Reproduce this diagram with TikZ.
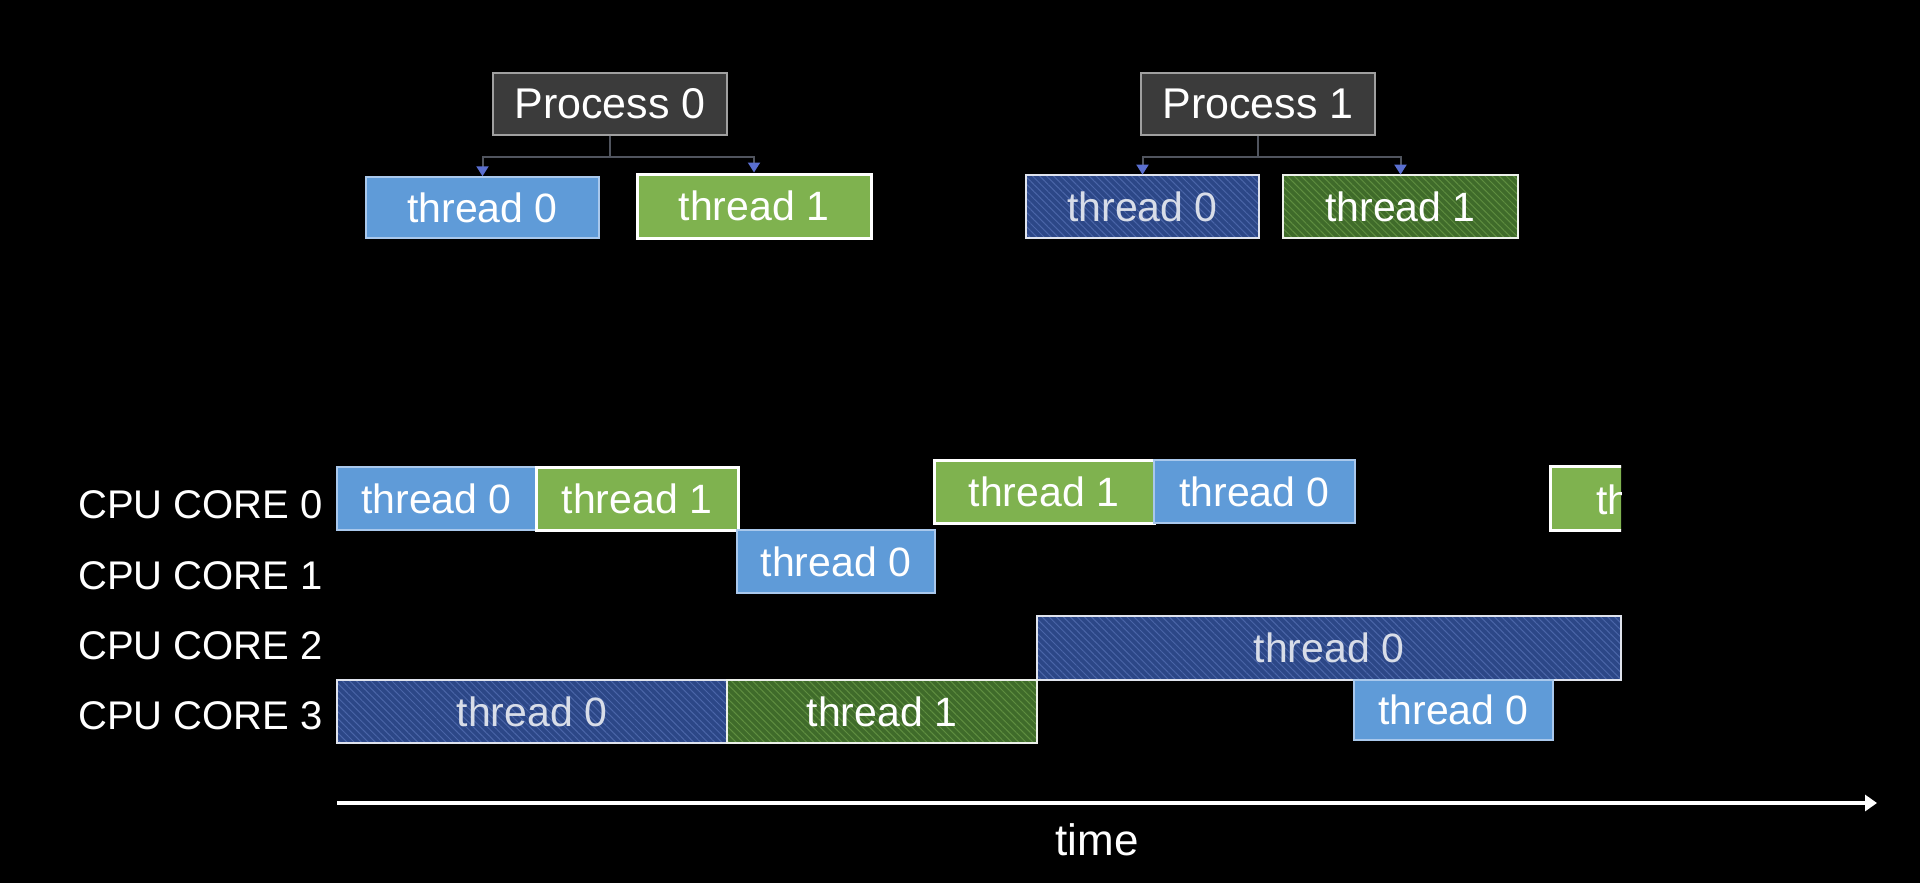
\documentclass[tikz,border=0pt]{standalone}
\usepackage{fontspec}
\setmainfont{Liberation Sans}
\usetikzlibrary{arrows.meta,fit,patterns.meta}
\definecolor{lbfill}{HTML}{5F9BD8}
\definecolor{lbline}{HTML}{A9C8EC}
\definecolor{lgfill}{HTML}{7FB24F}
\definecolor{dbfill}{HTML}{2C4787}
\definecolor{dbhatch}{HTML}{4A65A8}
\definecolor{dgfill}{HTML}{3F6B2A}
\definecolor{dghatch}{HTML}{5F8E40}
\definecolor{procfill}{HTML}{3B3B3B}
\definecolor{procline}{HTML}{A0A0A0}
\definecolor{connline}{HTML}{50545E}
\definecolor{arrowblue}{HTML}{5A6FD0}
\definecolor{dtext}{HTML}{D8DDE8}
\newcommand{\tbox}[7]{\node[#1, fit={(#3,#4)(#5,#6)}, inner sep=0pt, label={[#1text]center:#7}] (#2) {};}
\begin{document}
\begin{tikzpicture}[x=0.5pt,y=-0.5pt,
  txt/.style={font=\fontsize{20.5}{24}\selectfont, inner sep=0pt},
  lblue/.style={draw=lbline, line width=0.75pt, fill=lbfill},
  lbluetext/.style={txt, text=white},
  lgreen/.style={draw=white, line width=1.5pt, fill=lgfill},
  lgreentext/.style={txt, text=white},
  dblue/.style={fill=dbfill,
    postaction={pattern={Lines[angle=-45,distance=2.5pt,line width=0.5pt]}, pattern color=dbhatch},
    postaction={draw=white!85!dbfill, line width=1.2pt}},
  dbluetext/.style={txt, text=dtext},
  dgreen/.style={fill=dgfill,
    postaction={pattern={Lines[angle=-45,distance=2.5pt,line width=0.5pt]}, pattern color=dghatch},
    postaction={draw=white!90!dgfill, line width=1.2pt}},
  dgreentext/.style={txt, text=white},
  proc/.style={draw=procline, line width=0.8pt, fill=procfill},
  proctext/.style={text=white, inner sep=0pt, font=\fontsize{21.5}{26}\selectfont},
  conn/.style={draw=connline, line width=1pt, -{Triangle[width=6pt,length=5pt,color=arrowblue]}},
  bus/.style={draw=connline, line width=1pt},
  core/.style={text=white, anchor=base west, inner sep=0pt, font=\fontsize{20}{24}\selectfont},
]
\fill[black] (0,0) rectangle (1920,883);
\useasboundingbox (0,0) rectangle (1920,883);

% processes
\tbox{proc}{P0}{493}{73}{727}{135}{Process 0}
\tbox{proc}{P1}{1141}{73}{1375}{135}{Process 1}
\tbox{lblue}{P0T0}{366}{177}{599}{238}{thread 0}
\tbox{lgreen}{P0T1}{637}{174}{871}{238}{thread 1}
\tbox{dblue}{P1T0}{1026}{175}{1259}{238}{thread 0}
\tbox{dgreen}{P1T1}{1283}{175}{1518}{238}{thread 1}

\coordinate (bus0) at (610,157);
\coordinate (bus1) at (1258,157);
\draw[bus] (P0.south) -- (bus0);
\draw[conn] (bus0) -| (P0T0.north);
\draw[conn] (bus0) -| (P0T1.north);
\draw[bus] (P1.south) -- (bus1);
\draw[conn] (bus1) -| (P1T0.north);
\draw[conn] (bus1) -| (P1T1.north);

% core labels
\node[core] (L0) at (78,518) {CPU CORE 0};
\node[core] (L1) at (78,589) {CPU CORE 1};
\node[core] (L2) at (78,659) {CPU CORE 2};
\node[core] (L3) at (78,729) {CPU CORE 3};

% timeline
\tbox{lblue}{C0A}{337}{467}{536}{530}{thread 0}
\tbox{lgreen}{C0B}{536}{467}{738}{530}{thread 1}
\tbox{lgreen}{C0C}{934}{460}{1154}{523}{thread 1}
\tbox{lblue}{C0D}{1154}{460}{1355}{523}{thread 0}
\begin{scope}
  \clip (1530,440) rectangle (1621,550);
  \tbox{lgreen}{C0E}{1550}{466}{1700}{530}{}
  \node[txt, text=white, anchor=base west] (C0Et) at (1596,514) {thread 1};
\end{scope}
\tbox{lblue}{C1A}{737}{530}{935}{593}{thread 0}
\tbox{dblue}{C2A}{1037}{616}{1621}{680}{thread 0}
\tbox{dblue}{C3A}{337}{680}{727}{743}{thread 0}
\tbox{dgreen}{C3B}{727}{680}{1037}{743}{thread 1}
\tbox{lblue}{C3C}{1354}{680}{1553}{740}{thread 0}

% time axis
\coordinate (t0) at (337,803);
\coordinate (t1) at (1877,803);
\draw[white, line width=2pt, -{Triangle[width=8pt,length=6pt]}] (t0) -- (t1);
\node[text=white, font=\fontsize{22}{26}\selectfont] (time) at (1097,840) {time};
\end{tikzpicture}
\end{document}
